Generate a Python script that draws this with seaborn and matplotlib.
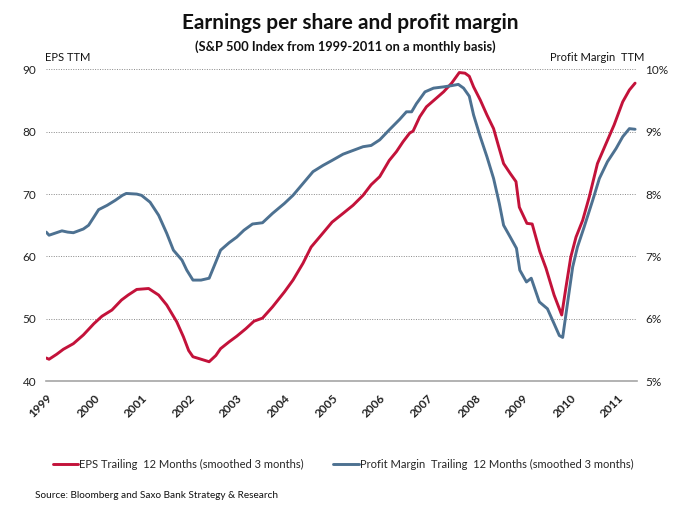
import matplotlib
matplotlib.use('Agg')
import matplotlib.pyplot as plt
import seaborn as sns
import pandas as pd

# EPS trailing 12 months (left axis)
eps_years = [1999.00, 1999.06, 1999.22, 1999.36, 1999.57, 1999.78, 2000.00, 2000.17, 2000.38,
             2000.58, 2000.72, 2000.90, 2001.15, 2001.36, 2001.53, 2001.74, 2001.88, 2001.99,
             2002.08, 2002.21, 2002.42, 2002.56, 2002.66, 2002.84, 2003.00, 2003.19, 2003.36,
             2003.54, 2003.75, 2004.00, 2004.18, 2004.39, 2004.56, 2004.77, 2005.00, 2005.23,
             2005.44, 2005.65, 2005.82, 2006.00, 2006.20, 2006.35, 2006.49, 2006.63, 2006.70,
             2006.84, 2006.98, 2007.16, 2007.34, 2007.51, 2007.67, 2007.79, 2007.88, 2007.97,
             2008.11, 2008.25, 2008.39, 2008.49, 2008.60, 2008.74, 2008.86, 2008.93, 2009.09,
             2009.20, 2009.36, 2009.49, 2009.66, 2009.82, 2009.91, 2010.01, 2010.12, 2010.26,
             2010.40, 2010.57, 2010.75, 2010.92, 2011.10, 2011.24, 2011.36]
eps_values = [43.7, 43.5, 44.3, 45.1, 46.0, 47.4, 49.2, 50.4, 51.4,
              53.0, 53.8, 54.7, 54.85, 53.8, 52.2, 49.5, 47.1, 44.9,
              43.9, 43.6, 43.1, 44.1, 45.2, 46.3, 47.2, 48.4, 49.6,
              50.1, 51.9, 54.3, 56.2, 58.9, 61.5, 63.4, 65.5, 66.9,
              68.2, 69.8, 71.5, 72.8, 75.4, 76.8, 78.4, 79.8, 80.1,
              82.4, 84.0, 85.2, 86.4, 87.8, 89.5, 89.4, 88.9, 87.2,
              85.1, 82.7, 80.5, 77.8, 74.9, 73.3, 72.0, 67.9, 65.3,
              65.2, 60.8, 58.1, 53.8, 50.6, 55.1, 59.9, 63.1, 65.8,
              69.6, 74.9, 78.1, 81.1, 84.8, 86.7, 87.8]

# Profit margin trailing 12 months in % (right axis)
pm_years = [1999.00, 1999.06, 1999.33, 1999.45, 1999.57, 1999.78, 1999.89, 2000.00, 2000.10,
            2000.28, 2000.45, 2000.60, 2000.68, 2000.90, 2001.00, 2001.18, 2001.36, 2001.53,
            2001.67, 2001.85, 2001.95, 2002.08, 2002.25, 2002.42, 2002.56, 2002.66, 2002.84,
            2003.00, 2003.15, 2003.33, 2003.54, 2003.75, 2004.00, 2004.18, 2004.39, 2004.60,
            2004.81, 2005.00, 2005.23, 2005.44, 2005.65, 2005.82, 2006.00, 2006.20, 2006.42,
            2006.56, 2006.67, 2006.77, 2006.95, 2007.13, 2007.34, 2007.51, 2007.65, 2007.76,
            2007.88, 2007.97, 2008.11, 2008.25, 2008.39, 2008.51, 2008.60, 2008.74, 2008.87,
            2008.94, 2009.08, 2009.18, 2009.35, 2009.52, 2009.66, 2009.77, 2009.84, 2009.94,
            2010.05, 2010.15, 2010.29, 2010.47, 2010.61, 2010.78, 2010.96, 2011.10, 2011.24,
            2011.36]
pm_values = [7.39, 7.34, 7.41, 7.39, 7.38, 7.44, 7.50, 7.63, 7.75,
             7.82, 7.90, 7.98, 8.01, 8.00, 7.98, 7.87, 7.66, 7.37,
             7.10, 6.94, 6.78, 6.62, 6.62, 6.65, 6.91, 7.10, 7.22,
             7.31, 7.42, 7.52, 7.54, 7.69, 7.85, 7.98, 8.17, 8.36,
             8.46, 8.54, 8.64, 8.70, 8.76, 8.78, 8.87, 9.03, 9.20,
             9.32, 9.32, 9.45, 9.64, 9.70, 9.72, 9.74, 9.76, 9.70,
             9.57, 9.27, 8.92, 8.60, 8.25, 7.85, 7.50, 7.31, 7.13,
             6.78, 6.59, 6.65, 6.27, 6.16, 5.92, 5.73, 5.70, 6.24,
             6.83, 7.15, 7.47, 7.90, 8.25, 8.52, 8.73, 8.92, 9.05,
             9.04]

year_ticks = list(range(1999, 2012))
eps_ticks = [40, 50, 60, 70, 80, 90]
pm_ticks = [5, 6, 7, 8, 9, 10]

RED = '#C3123A'
BLUE = '#4D7191'
FONT = ['Lato', 'DejaVu Sans']

sns.set_style('white')
plt.rcParams['font.family'] = FONT

eps_df = pd.DataFrame({'year': eps_years, 'eps': eps_values})
pm_df = pd.DataFrame({'year': pm_years, 'pm': pm_values})

fig = plt.figure(figsize=(7, 5.22), dpi=100)
ax = fig.add_axes([0.066, 0.27, 0.844, 0.597])
ax2 = ax.twinx()

sns.lineplot(data=eps_df, x='year', y='eps', ax=ax, color=RED, linewidth=2.1,
             legend=False)
sns.lineplot(data=pm_df, x='year', y='pm', ax=ax2, color=BLUE, linewidth=2.1,
             legend=False)

ax.set_xlim(1999, 2011.4)
ax.set_ylim(40, 90)
ax2.set_ylim(5, 10)
ax.set_yticks(eps_ticks)
ax2.set_yticks(pm_ticks)
ax.set_yticklabels([str(t) for t in eps_ticks])
ax2.set_yticklabels([f'{t}%' for t in pm_ticks])
ax.set_xticks(year_ticks)
ax.set_xticklabels([str(y) for y in year_ticks], rotation=45, ha='right',
                   rotation_mode='anchor', fontsize=8.5, fontweight='bold', color='#222222')
ax.set_xlabel('')
ax.set_ylabel('')
ax2.set_ylabel('')

for a in (ax, ax2):
    for side in ('top', 'left', 'right', 'bottom'):
        a.spines[side].set_visible(False)
ax.spines['bottom'].set_visible(True)
ax.spines['bottom'].set_color('#A6A6A6')
ax.spines['bottom'].set_linewidth(1.2)

ax.tick_params(axis='x', direction='out', length=5, width=1, color='#A6A6A6', pad=3)
ax.tick_params(axis='y', length=0, labelsize=8.5, pad=7, labelcolor='#222222')
ax2.tick_params(axis='y', length=0, labelsize=8.5, pad=6, labelcolor='#222222')

for v in eps_ticks[1:]:
    ax.axhline(v, color='#888888', linestyle=(0, (1, 1.5)), linewidth=0.7, zorder=0)

fig.text(0.5, 0.955, 'Earnings per share and profit margin', ha='center', va='center',
         fontsize=15, fontweight='bold', color='#111111')
fig.text(0.494, 0.91, '(S&P 500 Index from 1999-2011 on a monthly basis)', ha='center',
         va='center', fontsize=9.3, fontweight='bold', color='#111111')
fig.text(0.064, 0.89, 'EPS TTM', ha='left', va='center', fontsize=8, color='#111111')
fig.text(0.92, 0.89, 'Profit Margin  TTM', ha='right', va='center', fontsize=8,
         color='#111111')

handles = ax.get_lines()[:1] + ax2.get_lines()[:1]
labels = ['EPS Trailing  12 Months (smoothed 3 months)',
          'Profit Margin  Trailing  12 Months (smoothed 3 months)']
fig.legend(handles, labels, loc='center', bbox_to_anchor=(0.49, 0.111), ncol=2,
           frameon=False, fontsize=8.0, handlelength=2.3, handletextpad=0.1,
           columnspacing=2.6)

fig.text(0.05, 0.05, 'Source: Bloomberg and Saxo Bank Strategy & Research', ha='left',
         va='center', fontsize=7.2, color='#111111')

fig.savefig('out.png', dpi=100)
